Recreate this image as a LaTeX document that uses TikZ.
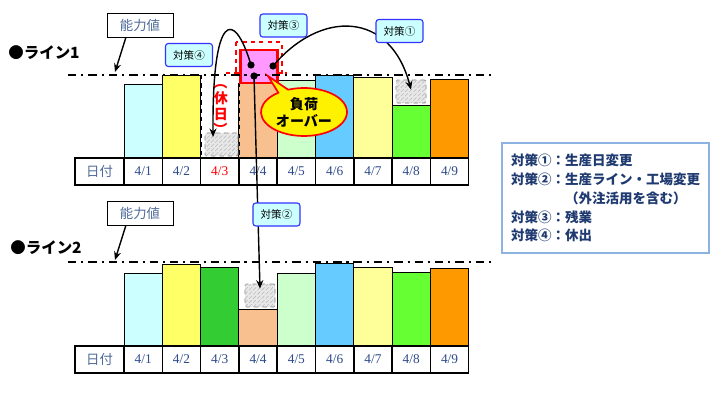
\documentclass[tikz,border=0pt]{standalone}
\usepackage{fontspec}
\setmainfont{Liberation Serif}
\newfontfamily\jp{Noto Sans CJK JP}
\usetikzlibrary{arrows.meta,positioning,shapes.geometric,shapes.callouts,patterns}
\definecolor{c1}{HTML}{CCFFFF}
\definecolor{c2}{HTML}{FFFF66}
\definecolor{c3}{HTML}{33CC33}
\definecolor{c4}{HTML}{F9C08F}
\definecolor{c5}{HTML}{CCFFCC}
\definecolor{c6}{HTML}{66CCFF}
\definecolor{c7}{HTML}{FFFF99}
\definecolor{c8}{HTML}{66FF33}
\definecolor{c9}{HTML}{FF9900}
\definecolor{over}{HTML}{FF99FF}
\definecolor{datetxt}{HTML}{2E4B8A}
\definecolor{captxt}{HTML}{4F6B9A}
\definecolor{tagblue}{HTML}{3333FF}
\definecolor{legline}{HTML}{8DB3E2}
\definecolor{legtxt}{HTML}{1F3A70}

\begin{document}
\begin{tikzpicture}[x=0.025cm, y=-0.025cm,
  cell/.style={draw=black, line width=1pt, fill=white, minimum width=0.9575cm, minimum height=0.675cm, inner sep=0pt, font=\fontsize{9.5}{9.5}\selectfont},
  hdcell/.style={cell, minimum width=1.225cm, font=\jp\fontsize{9.5}{9.5}\selectfont, text=captxt},
  gbox/.style={draw=gray, dashed, rounded corners=1pt, fill=gray!18, postaction={pattern=north east lines, pattern color=gray!55}, minimum width=0.75cm, minimum height=0.575cm, inner sep=0pt},
  tag/.style={draw=tagblue, line width=0.8pt, fill=c1, rounded corners=2pt, minimum width=1.175cm, minimum height=0.575cm, inner sep=0pt, font=\jp\fontsize{7.5}{7.5}\selectfont},
  capbox/.style={draw=black, fill=white, minimum width=1.65cm, minimum height=0.6cm, inner sep=0pt, font=\jp\fontsize{9.5}{9.5}\selectfont, text=captxt},
  capline/.style={line width=1.4pt, dash pattern=on 6pt off 3.5pt on 1.5pt off 3.5pt},
  dot/.style={circle, fill=black, inner sep=0pt, minimum size=0.18cm},
  arr/.style={-{Stealth[length=6pt,width=5pt]}, line width=1pt}]
\useasboundingbox (0,0) rectangle (720,400);

% line 1 bars
\foreach \i/\c/\t in {1/c1/84,2/c2/75,4/c4/83,5/c5/80,6/c6/75,7/c7/77,8/c8/105,9/c9/79}
  \draw[fill=\c, line width=0.6pt] ({124+38.3*(\i-1)},\t) rectangle ({124+38.3*\i},158);
\draw[dashed, line width=0.6pt] (201.5,75) -- (201.5,158) (239,83) -- (239,158);
\node[text=red, align=center, inner sep=0pt, font=\jp\bfseries\fontsize{10}{11}\selectfont] (hol) at (221,106) {\rotatebox[origin=c]{-90}{（}\\休\\日\\\rotatebox[origin=c]{-90}{）}};

% line 2 bars
\foreach \i/\c/\t in {1/c1/273,2/c2/264,3/c3/267,4/c4/309,5/c5/273,6/c6/263,7/c7/267,8/c8/272,9/c9/268}
  \draw[fill=\c, line width=0.6pt] ({124+38.3*(\i-1)},\t) rectangle ({124+38.3*\i},346);

% date rows
\node[hdcell] (ah) at (99.5,171.5) {日付};
\node[hdcell] (bh) at (99.5,359.5) {日付};
\foreach \i/\tc in {1/datetxt,2/datetxt,3/red,4/datetxt,5/datetxt,6/datetxt,7/datetxt,8/datetxt,9/datetxt} {
  \node[cell, text=\tc] (a\i) at ({124+38.3*(\i-0.5)},171.5) {4/\i};
  \node[cell, text=datetxt] (b\i) at ({124+38.3*(\i-0.5)},359.5) {4/\i}; }

% moved loads
\node[gbox, minimum width=0.825cm] (g43) at (221.5,144.5) {};
\node[gbox] (g48) at (411,91.5) {};
\node[gbox] (g24) at (260,295.5) {};

% overload on 4/4
\draw[red, dashed, line width=1pt] (236,42) rectangle (282,73);
\draw[red, dashed, line width=1pt] (226,73) -- (287,73);
\draw[fill=over, draw=red, line width=1.6pt] (240.5,50) rectangle (277.5,83);

% capacity lines
\draw[capline] (68,75) -- (492,75);
\draw[capline] (68,262) -- (492,262);

\node[capbox] (k1) at (140,25) {能力値};
\node[capbox] (k2) at (140,213) {能力値};
\coordinate (q1) at (115,72);
\coordinate (q2) at (115,260);
\draw[arr] ([xshift=-10pt]k1.south) -- (q1);
\draw[arr] ([xshift=-10pt]k2.south) -- (q2);
\node[font=\jp\bfseries\fontsize{11}{11}\selectfont] (l1) at (44,53) {●ライン1};
\node[font=\jp\bfseries\fontsize{11}{11}\selectfont] (l2) at (46,248) {●ライン2};

\node[ellipse callout, draw=red, line width=1.2pt, fill=yellow, callout absolute pointer={(268,76)}, minimum width=2.15cm, minimum height=1.2cm, inner sep=0pt, align=center, font=\jp\bfseries\fontsize{10}{12}\selectfont] (ov) at (304,112) {負荷\\オーバー};

\node[dot] (p1) at (251,65) {};
\node[dot] (p2) at (273,66) {};
\node[dot] (p3) at (254,76) {};

\draw[arr] (p1.center) .. controls (234,8) and (212,12) .. ([xshift=-6pt,yshift=-3pt]g43.north);
\draw[arr] (p2.center) .. controls (320,10) and (390,10) .. ([yshift=-7pt]g48.north);
\draw[arr] (p3.center) -- ([yshift=-3.5pt]g24.north);

\node[tag] (t4) at (189,55) {対策④};
\node[tag] (t3) at (283.5,25.5) {対策③};
\node[tag] (t1) at (399.5,31) {対策①};
\node[tag] (t2) at (276.5,214.5) {対策②};

\node[draw=legline, line width=0.9pt, minimum width=5.175cm, minimum height=2.75cm, align=left, text=legtxt, font=\jp\bfseries\fontsize{9.6}{13.4}\selectfont] (lg) at (605.5,198) {対策①：生産日変更\\対策②：生産ライン・工場変更\\\phantom{対策②：}（外注活用を含む）\\対策③：残業\\対策④：休出};
\end{tikzpicture}
\end{document}
